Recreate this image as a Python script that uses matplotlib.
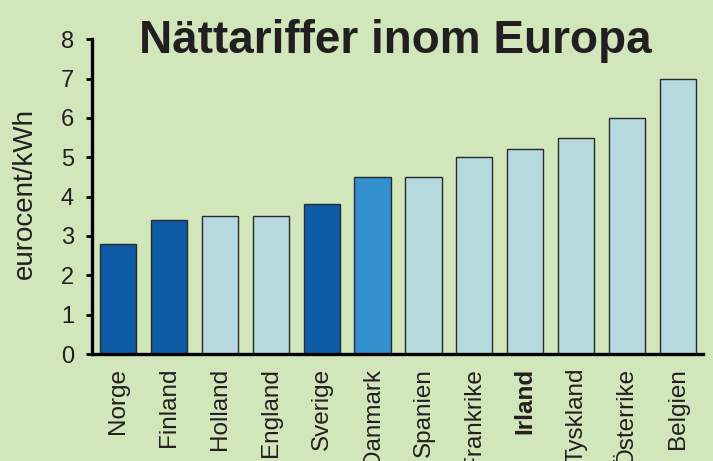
import matplotlib
matplotlib.use("Agg")
import matplotlib.pyplot as plt

plt.rcParams['font.family'] = ['Liberation Sans', 'DejaVu Sans']

countries = ["Norge", "Finland", "Holland", "England", "Sverige", "Danmark",
             "Spanien", "Frankrike", "Irland", "Tyskland", "Österrike", "Belgien"]
values = [2.8, 3.4, 3.5, 3.5, 3.8, 4.5, 4.5, 5.0, 5.2, 5.5, 6.0, 7.0]
groups = ["dark", "dark", "light", "light", "dark", "mid",
          "light", "light", "light", "light", "light", "light"]
yticks = [0, 1, 2, 3, 4, 5, 6, 7, 8]

palette = {"dark": "#0e5ca8", "mid": "#3590d0", "light": "#b6d9df"}
bg = "#d2e6bb"
txt = "#231f20"

fig = plt.figure(figsize=(7.13, 4.61), dpi=100, facecolor=bg)
ax = fig.add_axes([0.129, 0.232, 0.857, 0.683], facecolor=bg)

x = list(range(len(countries)))
ax.bar(x, values, width=0.71, color=[palette[g] for g in groups],
       edgecolor="#2a2a2a", linewidth=1.0, zorder=2)

ax.set_xlim(-0.51, 11.49)
ax.set_ylim(0, 8)
ax.set_yticks(yticks)
ax.set_yticklabels([str(t) for t in yticks], fontsize=17, color=txt)
ax.set_xticks(x)
labels = ax.set_xticklabels(countries, rotation=90, fontsize=17.5, color=txt,
                            va="top", ha="center")
for lab in labels:
    if lab.get_text() == "Irland":
        lab.set_fontweight("bold")

ax.tick_params(axis="y", direction="out", length=4, width=2, pad=9, colors="black", labelcolor=txt)
ax.tick_params(axis="x", length=0, pad=10)

for s in ["top", "right"]:
    ax.spines[s].set_visible(False)
for s in ["left", "bottom"]:
    ax.spines[s].set_linewidth(2.4)
    ax.spines[s].set_color("black")

ax.set_ylabel("eurocent/kWh", fontsize=20, color=txt)
ax.yaxis.set_label_coords(-0.088, 0.51)

fig.text(0.555, 0.885, "Nättariffer inom Europa", fontsize=33, fontweight="bold",
         color=txt, ha="center", va="baseline")

fig.savefig("out.png", dpi=100, facecolor=bg)
